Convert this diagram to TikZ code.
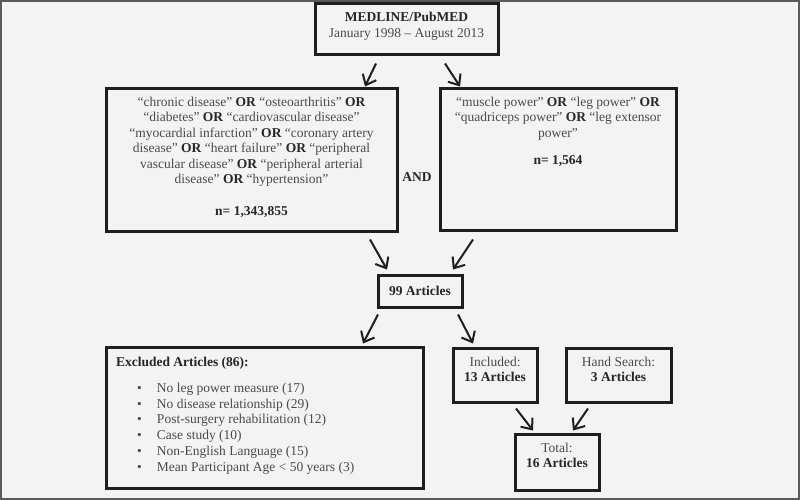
\documentclass[tikz,border=0pt]{standalone}
\usepackage{fontspec}
\setmainfont{Liberation Serif}
\usetikzlibrary{arrows.meta,calc}
\definecolor{bg}{HTML}{F3F3F4}
\definecolor{framecol}{HTML}{5A5A5A}
\definecolor{ink}{HTML}{1E1E1E}
\definecolor{txt}{HTML}{4A4A4A}
\definecolor{btxt}{HTML}{262626}
\newcommand{\mybf}[1]{\textbf{\color{btxt}#1}}
\newcommand{\boxtext}[4]{\begin{minipage}[c][#2][t]{#1}\vspace*{#3}#4\end{minipage}}
\begin{document}
\begin{tikzpicture}[x=1pt,y=-1pt,
  box/.style={draw=ink, line width=3pt, inner sep=0pt},
  arr/.style={draw=ink, line width=2pt, -{Straight Barb[length=9pt,width=15pt]}},
  lbl/.style={inner sep=0pt, text=btxt, font=\fontsize{13.5}{15.5}\selectfont\bfseries},
  font=\fontsize{13.5}{15.5}\selectfont, text=txt]
\fill[bg] (0,0) rectangle (800,500);
\draw[framecol, line width=2pt] (1,1) rectangle (799,499);
\useasboundingbox (0,0) rectangle (800,500);

\node[box] (medline) at (406.5,29.5) {\boxtext{183pt}{51pt}{8.5pt}{\centering
  \mybf{MEDLINE/PubMED}\\
  January 1998 – August 2013}};

\node[box] (left) at (251.5,160) {\boxtext{291pt}{142pt}{8pt}{\centering
  “chronic disease” \mybf{OR} “osteoarthritis” \mybf{OR}\\
  “diabetes” \mybf{OR} “cardiovascular disease”\\
  “myocardial infarction” \mybf{OR} “coronary artery\\
  disease” \mybf{OR} “heart failure” \mybf{OR} “peripheral\\
  vascular disease” \mybf{OR} “peripheral arterial\\
  disease” \mybf{OR} “hypertension”\\[16.5pt]
  \mybf{n= 1,343,855}}};

\node[lbl] (and) at (417,177) {AND};

\node[box] (right) at (558,159.5) {\boxtext{236pt}{141pt}{8pt}{\centering
  “muscle power” \mybf{OR} “leg power” \mybf{OR}\\
  “quadriceps power” \mybf{OR} “leg extensor\\
  power”\\[11.5pt]
  \mybf{n= 1,564}}};

\node[box, minimum width=84pt, minimum height=32pt] (art) at (420,291) {\mybf{99 Articles}};

\node[box] (excl) at (264.5,417.5) {\boxtext{317pt}{141pt}{10pt}{\raggedright\baselineskip=15.8pt
  \hspace*{10pt}\mybf{Excluded Articles (86):}\\[10.2pt]
  \hspace*{31pt}\makebox[20pt][l]{\textbullet}No leg power measure (17)\\
  \hspace*{31pt}\makebox[20pt][l]{\textbullet}No disease relationship (29)\\
  \hspace*{31pt}\makebox[20pt][l]{\textbullet}Post-surgery rehabilitation (12)\\
  \hspace*{31pt}\makebox[20pt][l]{\textbullet}Case study (10)\\
  \hspace*{31pt}\makebox[20pt][l]{\textbullet}Non-English Language (15)\\
  \hspace*{31pt}\makebox[20pt][l]{\textbullet}Mean Participant Age < 50 years (3)}};

\node[box] (incl) at (495,375) {\boxtext{84pt}{54pt}{9pt}{\centering
  Included:\\ \mybf{13 Articles}}};

\node[box] (hand) at (618.5,375) {\boxtext{105pt}{54pt}{9pt}{\centering
  Hand Search:\\ \mybf{3 Articles}}};

\node[box] (total) at (557,462) {\boxtext{84pt}{56pt}{9pt}{\centering
  Total:\\ \mybf{16 Articles}}};

\draw[arr] ($(medline.south)+(-30.5,7)$) -- ($(left.north)+(113.5,-1)$);
\draw[arr] ($(medline.south)+(38.5,7)$) -- ($(right.north)+(-98,-1)$);
\draw[arr] ($(left.south)+(118.5,7)$) -- ($(art.north)+(-33,-4)$);
\draw[arr] ($(right.south)+(-85,8)$) -- ($(art.north)+(33,-4)$);
\draw[arr] ($(art.south)+(-42,6)$) -- ($(excl.north)+(98.5,-2)$);
\draw[arr] ($(art.south)+(38,6)$) -- ($(incl.north)+(-22,-3)$);
\draw[arr] ($(incl.south)+(21,5)$) -- ($(total.north)+(-24,-2)$);
\draw[arr] ($(hand.south)+(-30.5,5)$) -- ($(total.north)+(16,-2)$);
\end{tikzpicture}
\end{document}
